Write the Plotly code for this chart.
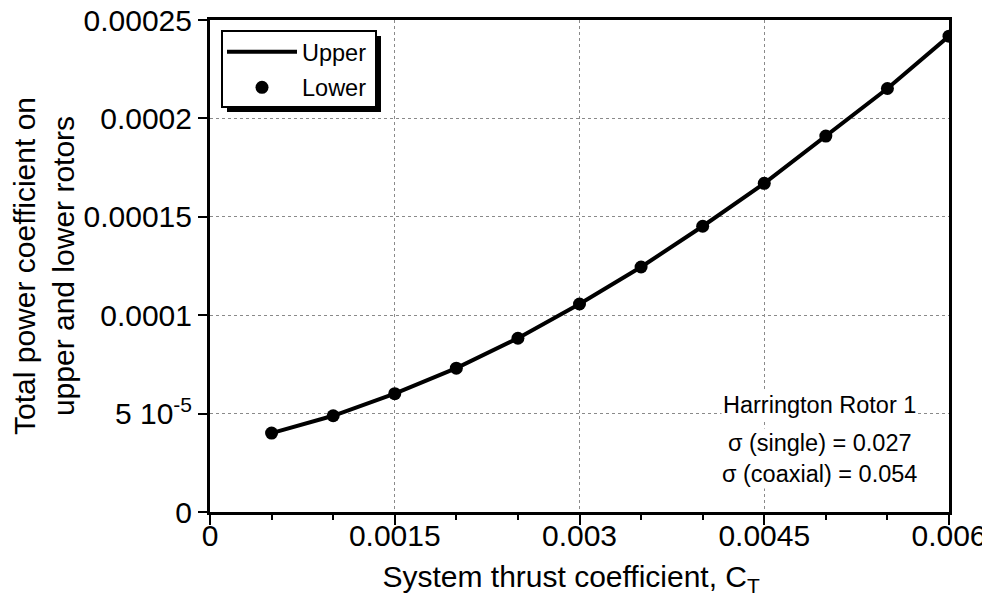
import plotly.graph_objects as go

# System thrust coefficient
ct = [0.0005, 0.0010, 0.0015, 0.0020, 0.0025, 0.0030, 0.0035, 0.0040, 0.0045, 0.0050, 0.0055, 0.0060]
# Total power coefficient (upper and lower rotors)
cp_upper = [40.1e-6, 48.9e-6, 60.1e-6, 73.1e-6, 88.3e-6, 105.7e-6, 124.5e-6, 145.2e-6, 167.0e-6, 191.0e-6, 215.2e-6, 241.8e-6]
cp_lower = [40.1e-6, 48.9e-6, 60.1e-6, 73.1e-6, 88.3e-6, 105.7e-6, 124.5e-6, 145.2e-6, 167.0e-6, 191.0e-6, 215.2e-6, 241.8e-6]

x_tickvals = [0, 0.0015, 0.003, 0.0045, 0.006]
x_ticktext = ["0", "0.0015", "0.003", "0.0045", "0.006"]
y_tickvals = [0, 0.00005, 0.0001, 0.00015, 0.0002, 0.00025]
y_ticktext = ["0", "5 10<sup>-5</sup>", "0.0001", "0.00015", "0.0002", "0.00025"]

FONT = "Arial, Liberation Sans, Helvetica, sans-serif"
TICKFONT = dict(family=FONT, size=30, color="black")

fig = go.Figure()
fig.add_trace(go.Scatter(x=ct, y=cp_upper, mode="lines", name="Upper",
                         line=dict(color="black", width=4), legendgroup="a"))
fig.add_trace(go.Scatter(x=ct, y=cp_lower, mode="markers", name="Lower",
                         marker=dict(color="black", size=13), legendgroup="b"))
# invisible companion trace so the label-only x axis (x2) is laid out
fig.add_trace(go.Scatter(x=ct, y=cp_upper, xaxis="x2", yaxis="y", mode="lines",
                         line=dict(width=0), opacity=0, showlegend=False,
                         hoverinfo="skip"))

# primary x axis: frame line, grid, major + minor ticks (no labels)
fig.update_layout(xaxis=dict(
    range=[0, 0.006], tickvals=x_tickvals, showticklabels=False,
    showline=True, linecolor="black", linewidth=3, mirror=True,
    ticks="outside", ticklen=10, tickwidth=2, tickcolor="black",
    minor=dict(dtick=0.0005, tick0=0, ticks="outside", ticklen=5, tickwidth=2,
               tickcolor="black", showgrid=False),
    showgrid=True, gridcolor="#8a8a8a", gridwidth=1, griddash="dot",
    zeroline=False, automargin=False,
))
# overlay x axis: tick labels + title only
fig.update_layout(xaxis2=dict(
    overlaying="x", anchor="y", side="bottom", matches="x",
    range=[0, 0.006], tickvals=x_tickvals, ticktext=x_ticktext,
    ticks="", showline=False, showgrid=False, zeroline=False, automargin=False,
    tickfont=TICKFONT, ticklabelstandoff=3,
    title=dict(text="System thrust coefficient, C<sub>T</sub>&nbsp;&nbsp;",
               font=dict(family=FONT, size=30, color="black"), standoff=14),
))
fig.update_layout(yaxis=dict(
    range=[0, 0.00025], tickvals=y_tickvals, ticktext=y_ticktext,
    showline=True, linecolor="black", linewidth=3, mirror=True,
    ticks="outside", ticklen=9, tickwidth=2, tickcolor="black",
    showgrid=True, gridcolor="#8a8a8a", gridwidth=1, griddash="dot",
    zeroline=False, automargin=False, ticklabeloverflow="allow",
    tickfont=TICKFONT, ticklabelstandoff=0,
    title=dict(text="Total power coefficient on<br>upper and lower rotors",
               font=dict(family=FONT, size=30, color="black"), standoff=15),
))

fig.add_annotation(x=0.00495, y=0.0000543, xref="x", yref="y", text="Harrington Rotor 1",
                   showarrow=False, bgcolor="white",
                   font=dict(family=FONT, size=23.5, color="black"))
fig.add_annotation(x=0.00495, y=0.0000274, xref="x", yref="y",
                   text="σ (single) = 0.027<br>σ (coaxial) = 0.054",
                   showarrow=False, bgcolor="white",
                   font=dict(family=FONT, size=23.5, color="black"))

# legend frame with drop shadow (px offsets from the plot's top-left, plot is 739 x 492)
PW, PH = 739, 492
FX0, FY0, FX1, FY1, OFF = 12, 11, 166, 87, 5
fig.add_shape(type="rect", xref="paper", yref="paper",
              x0=(FX0 + OFF) / PW, x1=(FX1 + OFF) / PW,
              y0=1 - (FY1 + OFF) / PH, y1=1 - (FY0 + OFF) / PH,
              fillcolor="black", line=dict(width=0), layer="above")
fig.add_shape(type="rect", xref="paper", yref="paper",
              x0=FX0 / PW, x1=FX1 / PW, y0=1 - FY1 / PH, y1=1 - FY0 / PH,
              fillcolor="white", line=dict(color="black", width=2), layer="above")

fig.update_layout(
    width=982, height=599,
    margin=dict(l=202, r=41, t=12, b=95),
    paper_bgcolor="white", plot_bgcolor="white",
    font=dict(family=FONT, color="black"),
    legend=dict(x=12 / PW, y=1 - 10 / PH, xanchor="left", yanchor="top",
                bgcolor="rgba(0,0,0,0)", borderwidth=0,
                font=dict(family=FONT, size=23.5, color="black"),
                itemwidth=70, tracegroupgap=2),
    showlegend=True,
)

fig.write_html("out.html")
